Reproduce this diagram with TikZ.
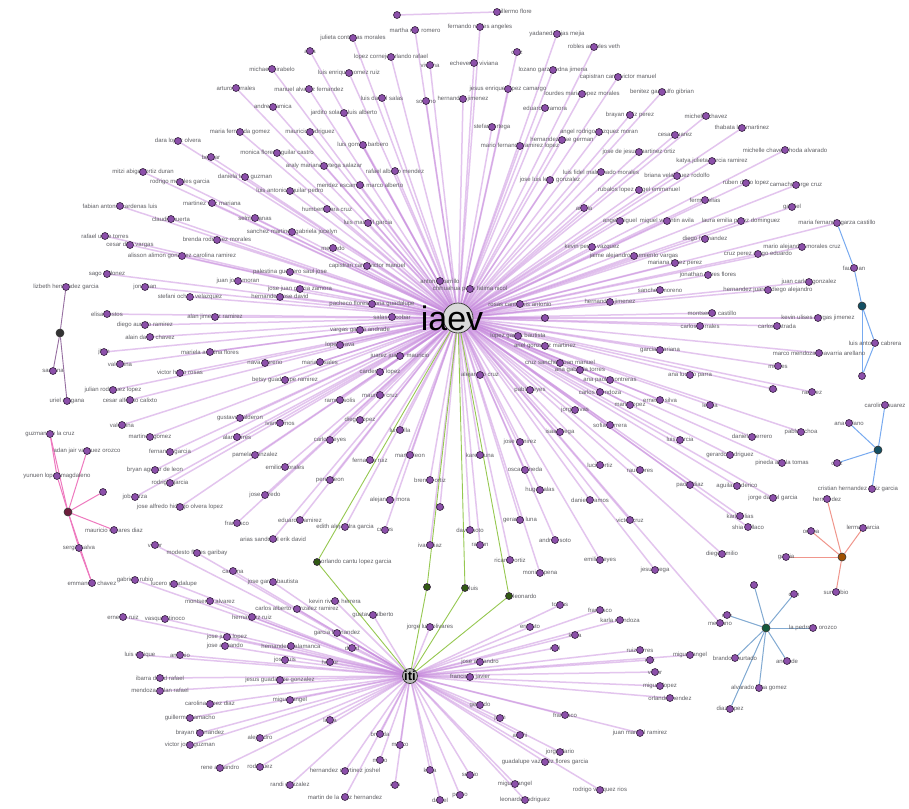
\documentclass[tikz,border=0pt]{standalone}
\usepackage{fontspec}
\setmainfont{Liberation Sans}
\pgfdeclarelayer{edges}
\pgfsetlayers{edges,main}
\definecolor{nodefill}{RGB}{140,80,170}
\definecolor{nodeline}{RGB}{50,30,60}
\definecolor{edgepurple}{RGB}{200,140,222}
\definecolor{labelgray}{RGB}{95,95,100}
\definecolor{edgegreen}{RGB}{150,200,80}
\definecolor{greenfill}{RGB}{50,90,20}
\definecolor{edgepink}{RGB}{238,120,190}
\definecolor{edgeblue}{RGB}{120,170,240}
\definecolor{edgeorange}{RGB}{240,150,140}
\definecolor{edgeteal}{RGB}{130,170,210}
\definecolor{edgedark}{RGB}{150,110,160}
\tikzset{
  pn/.style={circle,inner sep=0pt,minimum size=7pt,fill=nodefill,draw=nodeline,line width=0.6pt},
  lbl/.style={inner sep=0pt,font=\fontsize{6}{7}\selectfont,text=labelgray},
  pe/.style={draw=edgepurple,line width=1.5pt,opacity=0.5},
  ge/.style={draw=edgegreen,line width=0.9pt},
  ke/.style={draw=edgedark,line width=0.9pt},
  pke/.style={draw=edgepink,line width=1pt},
  be/.style={draw=edgeblue,line width=1pt},
  oe/.style={draw=edgeorange,line width=1pt},
  te/.style={draw=edgeteal,line width=1pt},
  hubn/.style={circle,inner sep=0pt,minimum size=8pt,draw=black!80,line width=0.6pt}
}
\def\ListA{415/30/martha ruiz romero,480/27/fernando robles angeles,557/34/yadanedi rojas mejia,353/38/julieta contreras morales,594/47/robles angeles veth,310/51/alba,391/57/lopez cornejo orlando rafael,517/52/ortiz,430/65/viviana,474/63/echeverria viviana,272/69/michael mirabelo,349/73/luis enrique gomez ruiz,553/70/lozano garza edna jimena,618/77/capistran cano victor manuel,508/89/jesus enrique lopez camargo,236/88/arturo corrales,309/89/manuel alvarez fernandez,382/98/luis daniel salas,426/101/soriano,463/99/hernandez jimenez,582/94/lourdes maria lopez morales,662/92/benitez gandulfo gibrian,273/107/andrea jamica,344/113/jardito solano luis alberto,545/108/eduardo zamora,492/127/stefani ortega,630/115/brayan ortiz perez,706/116/michelle chavez,599/132/angel rodrigo vazquez moran,562/140/hernandez jose german,675/135/cesar suarez,742/128/thabata lop martinez,520/146/mario fernando ramirez lopez,240/132/maria fernanda gomez,310/132/mauricio rodriguez,178/141/dara lopez olvera,363/145/luis gomez barbero,211/157/belmar,277/153/monica flores aguilar castro,324/166/araly mariana ortega salazar,395/171/rafael alberto mendez,143/172/mitzi abigail ortiz duran,180/182/rodrigo morales garcia,245/177/daniela lara guzman,290/191/luis antonio aguilar pedro,360/185/mendez escamilla marco alberto,639/152/jose de jesus martinez ortiz,712/161/katya julieta garcia ramirez,785/150/michelle chavez rhoda alvarado,601/172/luis fidel maldonado morales,550/180/jose luis leon gonzalez,677/176/briana velazquez rodolfo,746/183/ruben dario lopez,796/185/camacho jorge cruz,639/190/rubalos lopez angel emmanuel,705/200/fermin elias,584/208/arzola,667/221/miguel valentin avila,620/221/angel miguel,741/221/laura emilia perez dominguez,792/207/gabriel,705/239/diego hernandez,802/247/mario alejandro morales cruz,758/254/cruz perez diego eduardo,592/247/kevin perez vazquez,634/256/jaime alejandro sarmiento vargas,675/263/mariana lopez perez,212/203/martinez ruiz mariana,327/209/humberto lara cruz,171/219/claudia huerta,255/218/selma llanas,368/223/luis manuel garcia,292/232/sanchez martinez gabriela jocelyn,217/240/brenda rodriguez morales,333/248/mercado,182/256/alisson alimon gonzalez carolina ramirez,367/266/capistran cano victor manuel,120/206/fabian antonio cardenas luis,105/236/rafael uribe torres,130/245/cesar diaz vargas,107/274/sago ordonez,145/287/jonathan,107/314/elisa bustos,145/325/diego aurelio ramirez,104/352/jhon,113/390/julian rodriguez lopez,120/364/valentina,130/400/cesar alfonso calixto,238/281/juan jose moran,290/272/palestina guerrero saul jose,300/289/jose juan garcia zamora,190/297/stefani ochoa velazquez,280/297/hernandez jose david,215/317/alan jimenez ramirez,150/337/alain david chavez,210/352/mariela ariadna flores,180/373/victor hugo rosas,265/363/nava moreno,285/380/betsy guadalupe ramirez,340/345/lopez nava,360/330/vargas garcia andrade,400/356/juarez juarez mauricio,320/362/maria rosales,380/372/cardenas lopez,372/304/pacheco flores gloria guadalupe,392/317/salas escobar,440/281/antonio carrillo,470/289/chihuahua pozo fatima nicol,520/304/rosas cantu luis antonio,545/318/jan,518/336/lopez garcia bautista,545/346/ariel gonzalez martinez,560/363/cruz sanchez juan manuel,122/425/valentina,150/437/martinez gomez,170/452/fernando garcia,155/470/bryan aguilar de leon,170/483/rodrigo garcia,135/497/job garza,180/507/jose alfredo hidalgo olvera lopez,240/418/gustavo calderon,280/423/ivan ramos,237/437/alan torres,255/455/pamela gonzalez,285/467/emilio morales,330/480/perez leon,265/495/jose alfredo,300/520/eduardo ramirez,237/523/francisco,345/527/edith alejandra garcia,385/530/cortes,273/539/arias sandoval erik david,340/400/ramon solis,380/395/mauricio cruz,360/420/diego lopez,400/430/luis villa,330/440/carlos reyes,410/455/martin leon,370/460/fernanda ruiz,430/480/brenda ortiz,390/500/alejandro mora,440/507/luis,470/530/david soto,430/545/ivan diaz,480/545/ramon,708/275/jonathan torres flores,768/290/hernandez juarez diego alejandro,809/282/juan carlos gonzalez,660/290/sanchez moreno,610/302/hernandez jimenez,818/318/kevin ulises vargas jimenez,777/326/carlos estrada,712/313/montserrat castillo,700/326/carlos corrales,819/353/marco mendoza chavarria arellano,778/366/mireles,660/350/garcia mariana,690/375/ana lucero parra,610/380/ana paola contreras,773/389/luis,812/392/ramirez,580/370/ana gabriela torres,600/392/carlos mendoza,480/375/alejandro cruz,530/390/pablo reyes,575/410/jorge rivas,630/405/maria lopez,660/400/ernesto silva,710/405/leticia,610/425/sofia herrera,560/432/isaac vega,520/442/jose ramirez,480/455/karen luna,525/470/oscar pineda,600/465/lucia ortiz,640/470/raul flores,690/485/paola diaz,540/490/hugo salas,590/500/daniela ramos,630/520/victor cruz,520/520/gerardo luna,555/540/andrea soto,600/560/emilio reyes,655/570/jesus vega,540/573/monica pena,510/560/ricardo ortiz,801/432/pablo ochoa,752/437/daniel guerrero,730/455/gerardo rodriguez,782/463/pineda alcala tomas,737/486/aguilar federico,773/498/jorge daniel garcia,740/516/karla elias,748/527/shia bellaco,722/554/diego emilio,680/440/luis garcia,720/623/medrano}
\def\ListB{135/580/gabriela rubio,174/584/lucero guadalupe,233/571/carolina,273/582/jose garza bautista,210/601/montserrat alvarez,335/601/kevin rivera herrera,297/609/carlos alberto gonzalez ramirez,252/617/hernandez ruiz,165/619/vasquez tinoco,123/617/ernesto ruiz,373/615/gustavo alberto,227/637/jose juan lopez,337/633/garcia hernandez,225/646/jose armando,291/646/hernandez salamanca,140/655/luis enrique,180/655/antonio,155/545/victor,197/553/modesto flores garibay,160/678/ibarra david rafael,160/691/mendoza dylan rafael,210/704/carolina lopez diaz,190/718/guillermo camacho,200/733/brayan hernandez,190/745/victor jose guzman,290/700/miguel angel,280/680/jesus guadalupe gonzalez,285/660/jose luis,330/662/hector,352/648/david,260/738/alejandro,220/768/rene alejandro,260/767/rodriguez,290/785/randi gonzalez,345/797/martin de la cruz hernandez,345/771/hernandez martinez joshel,380/734/brenda,400/745/marco,430/770/karla,470/775/sergio,515/784/miguel angel,600/790/rodrigo vazquez rios,525/800/leonardo rodriguez,545/762/guadalupe vazquez flores garcia,560/752/jorge dario,640/733/juan manuel ramirez,670/698/orlando mendez,660/686/miguel lopez,655/672/victor,650/660/ruiz,690/655/miguel angel,520/735/anahi,500/718/juan,565/715/francisco,480/705/gerardo,330/720/laura,430/627/jorge luis olivares,480/662/jose alejandro,470/677/francisco javier,530/627/ernesto,575/635/karla,555/648/raul,640/650/ruiz torres,620/620/karla mendoza,600/610/francisco,560/605/tomas,440/800/daniel,460/795/pedro,380/760/mario,395/785/ana}
\begin{document}
\begin{tikzpicture}[x=1pt,y=-1pt]
\useasboundingbox (0,0) rectangle (909,808);
\begin{pgfonlayer}{edges}
\fill[white] (0,0) rectangle (909,808);
\end{pgfonlayer}
% coordinates
\foreach \x/\y/\t [count=\i] in \ListA { \coordinate (a\i) at (\x,\y); \xdef\NA{\i} }
\foreach \x/\y/\t [count=\i] in \ListB { \coordinate (b\i) at (\x,\y); \xdef\NB{\i} }
% labels
\foreach \x/\y/\t [count=\i] in \ListA { \node[lbl] at (a\i) {\t}; }
\foreach \x/\y/\t [count=\i] in \ListB { \node[lbl] at (b\i) {\t}; }
% circles
\foreach \i in {1,...,\NA} { \node[pn] at (a\i) {}; }
\foreach \i in {1,...,\NB} { \node[pn] at (b\i) {}; }
% pair at top
\node[pn] (alba) at (397,15) {};
\node[lbl] (guil) at (513,12) {guillermo flore};
\node[pn] (guilc) at (497,12) {};
% link node to blue cluster
\node[lbl] at (837,223) {maria fernanda garza castillo};
\node[pn] (mf) at (837,223) {};
% dark cluster
\node[lbl] at (66,287) {lizbeth hernandez garcia};
\node[pn] (k1) at (66,287) {};
\node[hubn,fill=black!80] (kh) at (60,333) {};
\node[lbl] at (53,371) {santana};
\node[pn] (k2) at (53,371) {};
\node[lbl] at (67,401) {uriel magana};
\node[pn] (k3) at (67,401) {};
% pink cluster
\node[hubn,fill={rgb,255:red,110;green,30;blue,60}] (ph) at (68,512) {};
\foreach \x/\y/\t [count=\i] in {50/434/guzman de la cruz,87/451/adan jair vazquez orozco,57/476/yunuen lopez magdaleno,103/492/ari,114/530/mauricio olivares diaz,79/548/sergio salva,92/583/emmanuel chavez}
  { \node[lbl] at (\x,\y) {\t}; \node[pn] (p\i) at (\x,\y) {}; }
% blue cluster 1
\node[hubn,fill={rgb,255:red,20;green,80;blue,100}] (bh1) at (862,306) {};
\foreach \x/\y/\t [count=\i] in {854/268/faubillan,875/343/luis antonio cabrera,862/376/jo}
  { \node[lbl] at (\x,\y) {\t}; \node[pn] (q\i) at (\x,\y) {}; }
% blue cluster 2
\node[hubn,fill={rgb,255:red,20;green,80;blue,100}] (bh2) at (878,450) {};
\foreach \x/\y/\t [count=\i] in {885/405/carolina suarez,849/423/ana solano,837/463/ortiz}
  { \node[lbl] at (\x,\y) {\t}; \node[pn] (r\i) at (\x,\y) {}; }
\node[lbl] at (858,489) {cristian hernandez ortiz garcia};
\node[pn] (r4) at (872,489) {};
% orange cluster
\node[hubn,fill={rgb,255:red,160;green,80;blue,0}] (oh) at (842,557) {};
\foreach \x/\y/\t [count=\i] in {827/499/hernandez,811/531/ochoa,863/528/lerma garcia,786/557/garcia,836/592/sun rubio}
  { \node[lbl] at (\x,\y) {\t}; \node[pn] (s\i) at (\x,\y) {}; }
% teal cluster
\node[hubn,fill={rgb,255:red,20;green,90;blue,60}] (gh) at (766,628) {};
\foreach \x/\y/\t [count=\i] in {754/585/ale,794/594/cleo,727/615/dife,813/628/la pedroza orozco,735/658/brandon hurtado,787/661/andrade,759/688/alvarado luna gomez,730/709/diaz lopez}
  { \node[lbl] at (\x,\y) {\t}; \node[pn] (t\i) at (\x,\y) {}; }
% green nodes
\foreach \x/\y/\t [count=\i] in {317/562/orlando cantu lopez garcia,427/587/,465/588/luis,509/596/leonardo}
  { \node[lbl,anchor=west] at (\x+4,\y) {\t}; \node[pn,fill=greenfill] (g\i) at (\x,\y) {}; }
% hubs
\node[circle,inner sep=0pt,minimum size=30pt,fill=gray!30,draw=black!75,line width=0.8pt] (iaev) at (458,318) {};
\node[font=\fontsize{34}{34}\selectfont,inner sep=0pt] at (452,318) {iaev};
\node[circle,inner sep=0pt,minimum size=15pt,fill=gray!55,draw=black!80,line width=0.8pt] (iti) at (410,676) {};
\node[font=\fontsize{13}{13}\selectfont\bfseries,inner sep=0pt] at (410,676) {iti};
% edges
\begin{pgfonlayer}{edges}
\foreach \i in {1,...,\NA} { \draw[pe] (iaev) -- (a\i); }
\foreach \i in {1,...,\NB} { \draw[pe] (iti) -- (b\i); }
\draw[pe] (alba) -- (guilc);
\draw[pe] (iaev) -- (mf);
\draw[be] (mf) -- (q1);
\draw[ke] (k1) -- (kh); \draw[ke] (kh) -- (k2); \draw[ke] (kh) -- (k3);
\foreach \i in {1,...,7} { \draw[pke] (ph) -- (p\i); }
\draw[pke] (p1) -- (p3); \draw[pke] (p6) -- (p7);
\foreach \i in {1,2,3} { \draw[be] (bh1) -- (q\i); }
\draw[be] (q2) -- (q3);
\foreach \i in {1,...,4} { \draw[be] (bh2) -- (r\i); }
\foreach \i in {1,...,5} { \draw[oe] (oh) -- (s\i); }
\foreach \i in {1,...,8} { \draw[te] (gh) -- (t\i); }
\foreach \i in {1,...,4} { \draw[ge] (iaev) -- (g\i); \draw[ge] (g\i) -- (iti); }
\end{pgfonlayer}
\end{tikzpicture}
\end{document}
